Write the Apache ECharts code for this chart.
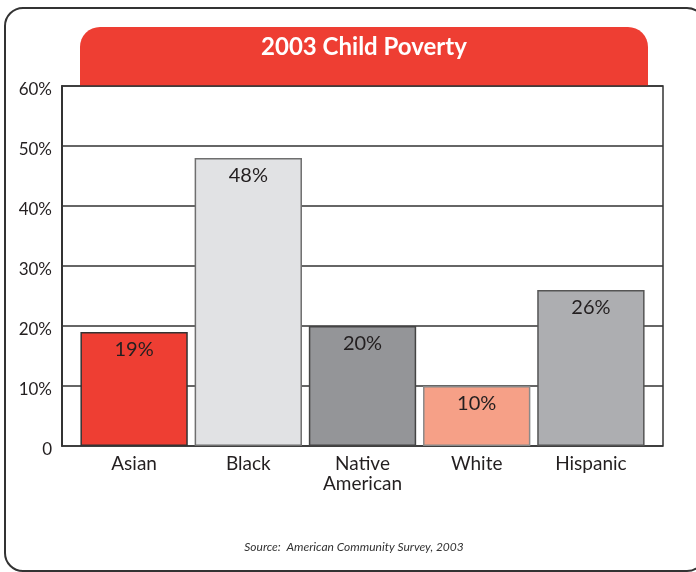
<!DOCTYPE html>
<html>
<head>
<meta charset="utf-8">
<script src="https://cdn.jsdelivr.net/npm/echarts@6/dist/echarts.min.js"></script>
<style>
  html, body { margin: 0; padding: 0; background: #fff; }
  #chart { width: 696px; height: 572px; }
</style>
</head>
<body>
<div id="chart"></div>
<script>
// Child poverty rate by group, 2003 (percent)
const categories = ['Asian', 'Black', 'Native\nAmerican', 'White', 'Hispanic'];
const povertyRates = [19, 48, 20, 10, 26];
const barColors = ['#EE3E33', '#E1E2E4', '#949598', '#F6A087', '#ADAEB1'];
const barBorders = ['#333333', '#6f6f6f', '#444444', '#8a8a8a', '#555555'];
const yTicks = [0, 10, 20, 30, 40, 50, 60];

const chart = echarts.init(document.getElementById('chart'), null, { renderer: 'canvas' });

const fontFamily = 'Lato, "Open Sans", sans-serif';
const ink = '#231f20';

chart.setOption({
  animation: false,
  backgroundColor: '#ffffff',
  graphic: [
    {
      type: 'rect', z: 0,
      shape: { x: 5, y: 8, width: 700, height: 563, r: 18 },
      style: { fill: 'none', stroke: '#333333', lineWidth: 2 }
    },
    {
      type: 'rect', z: 0,
      shape: { x: 80, y: 27, width: 568, height: 59, r: [20, 20, 0, 0] },
      style: { fill: '#EE3E33' }
    },
    {
      type: 'text', z: 5,
      style: {
        x: 364, y: 47, text: '2003 Child Poverty',
        fill: '#ffffff', font: 'bold 24px ' + fontFamily,
        align: 'center', verticalAlign: 'middle'
      }
    },
    {
      type: 'text', z: 5,
      style: {
        x: 354, y: 547, text: 'Source:  American Community Survey, 2003',
        fill: '#333333', font: 'italic 12px ' + fontFamily,
        align: 'center', verticalAlign: 'middle'
      }
    }
  ],
  grid: [
    { left: 62, right: 33, top: 86, bottom: 126, show: true,
      borderColor: '#333333', borderWidth: 1.5 },
    { left: 77, right: 48, top: 86, bottom: 126 }
  ],
  xAxis: [
    { gridIndex: 0, type: 'category', data: categories, show: false },
    {
      gridIndex: 1, type: 'category', data: categories,
      axisLine: { show: false }, axisTick: { show: false },
      axisLabel: {
        color: ink, fontSize: 19, lineHeight: 20, margin: 8,
        fontFamily: fontFamily, interval: 0
      }
    }
  ],
  yAxis: [
    {
      gridIndex: 0, type: 'value', min: yTicks[0], max: yTicks[yTicks.length - 1], interval: 10,
      axisLine: { show: true, lineStyle: { color: '#333333', width: 2 } },
      axisTick: { show: false },
      splitLine: { show: true, lineStyle: { color: '#333333', width: 1.5 } },
      axisLabel: {
        color: ink, fontSize: 17, margin: 10, fontFamily: fontFamily,
        verticalAlign: 'top', lineHeight: 8,
        formatter: v => (v === 0 ? '0' : v + '%')
      }
    },
    {
      gridIndex: 1, type: 'value', min: yTicks[0], max: yTicks[yTicks.length - 1], interval: 10,
      show: false
    }
  ],
  series: [
    {
      type: 'bar', xAxisIndex: 1, yAxisIndex: 1, z: 3,
      barWidth: '94%',
      data: povertyRates.map((v, i) => ({
        value: v,
        itemStyle: { color: barColors[i], borderColor: barBorders[i], borderWidth: 1.5 }
      })),
      label: {
        show: true, position: 'insideTop', distance: 8,
        color: ink, fontSize: 20, fontFamily: fontFamily,
        formatter: p => p.value + '%'
      }
    }
  ]
});
</script>
</body>
</html>
